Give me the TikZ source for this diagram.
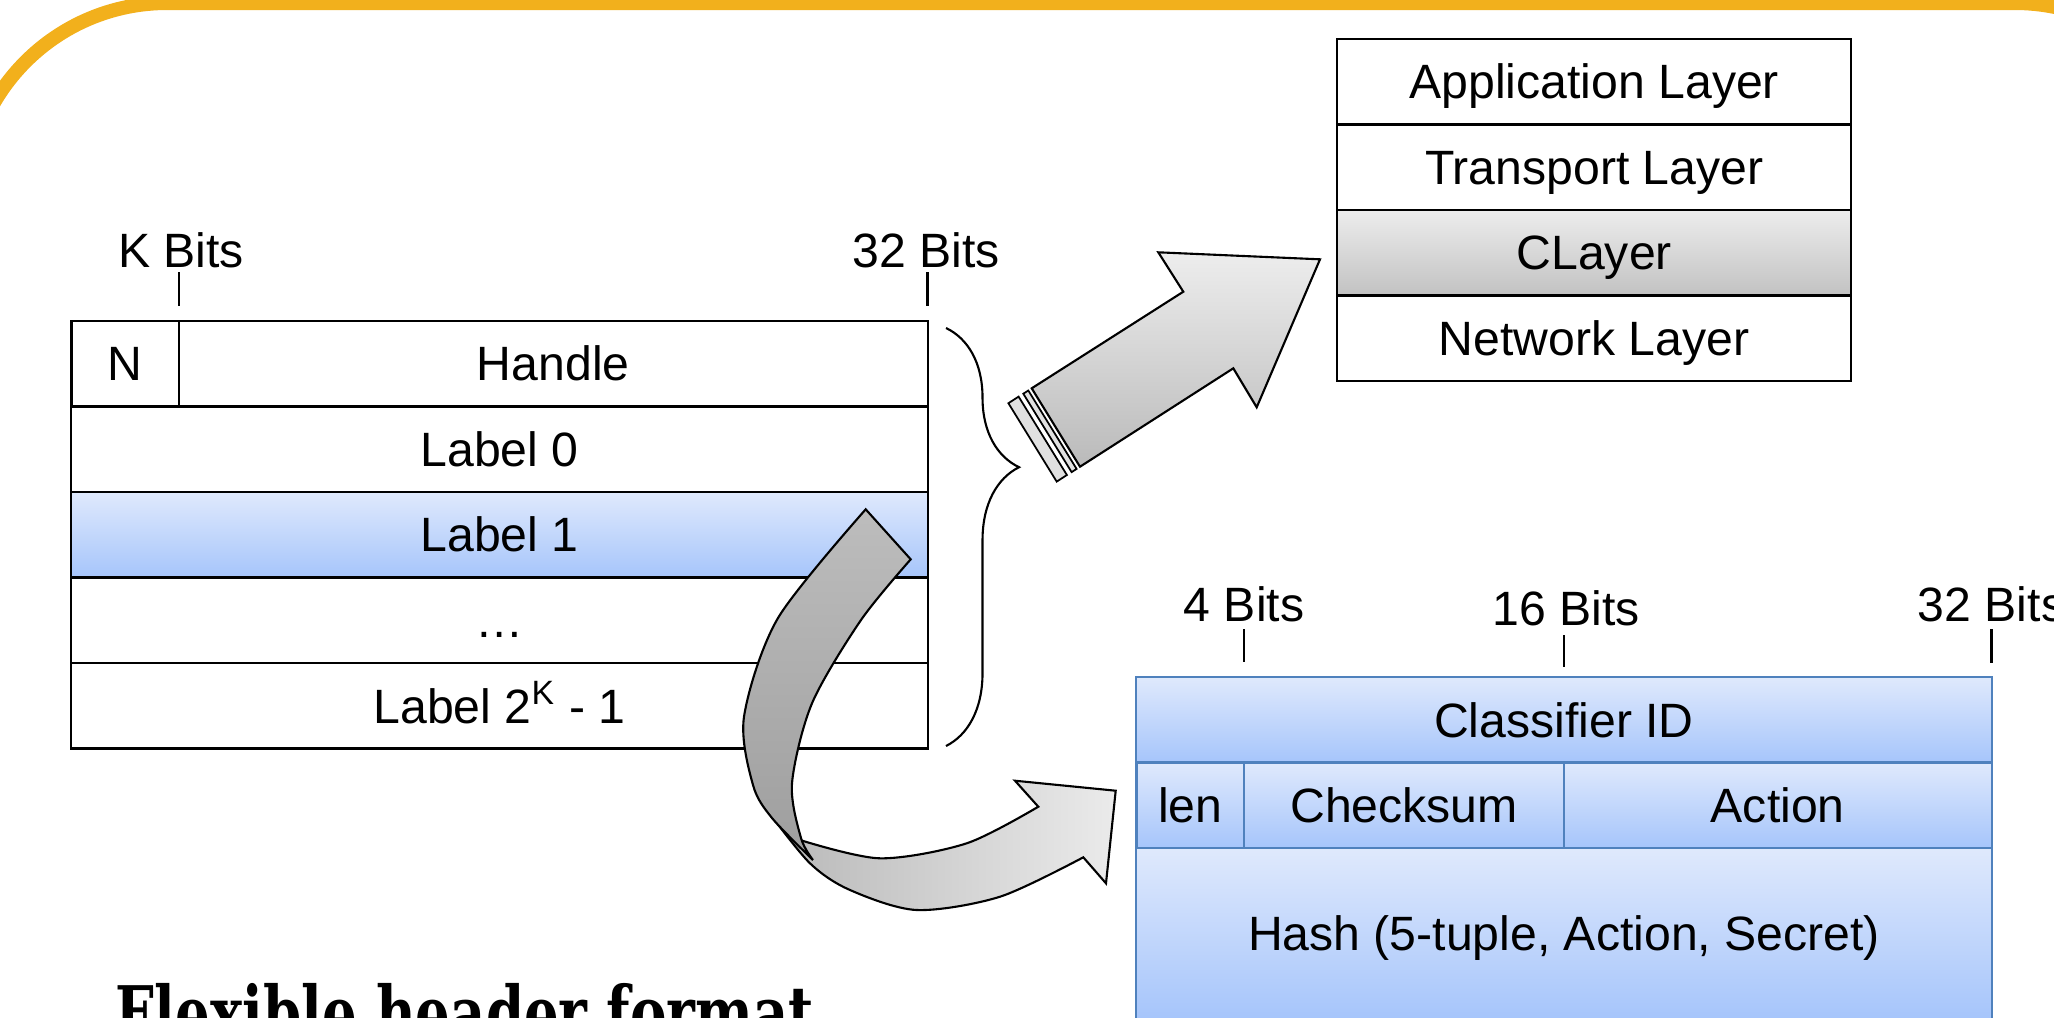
\documentclass[tikz,border=0pt]{standalone}
\usepackage{fontspec}
\setmainfont{Liberation Sans}
\newfontfamily\slabserif{DejaVu Serif}
\usetikzlibrary{decorations.pathreplacing}
\definecolor{slideorange}{HTML}{F2B01C}
\definecolor{rowblueT}{HTML}{DFE9FC}
\definecolor{rowblueB}{HTML}{A6C5FB}
\definecolor{bluestroke}{HTML}{4F81BD}
\definecolor{layergrayT}{HTML}{EDEDED}
\definecolor{layergrayB}{HTML}{C2C2C2}
\begin{document}
\begin{tikzpicture}[x=0.01cm,y=-0.01cm,
  lbl/.style={font=\fontsize{13.7}{16}\selectfont, text height=9.8pt, text depth=0pt, inner sep=0pt},
  cell/.style={draw=black, line width=0.6pt, rectangle, inner sep=0pt, outer sep=0pt,
    minimum height=0.855cm, lbl},
  bluecell/.style={cell, draw=bluestroke, top color=rowblueT, bottom color=rowblueB},
  graycell/.style={cell, top color=layergrayT, bottom color=layergrayB},
  tick/.style={line width=0.6pt},
  bigarrow/.style={draw=black, line width=0.6pt, line join=miter, top color=black!7, bottom color=black!27},
  stripe/.style={draw=black, line width=0.5pt, fill=black!12},
  ribbonback/.style={draw=black, line width=0.6pt, top color=black!26, bottom color=black!38},
  ribbonfront/.style={draw=black, line width=0.6pt, left color=black!28, right color=black!8},
]
\useasboundingbox (0,0) rectangle (2054,1017);
\clip (0,0) rectangle (2054,1017);
\fill[white] (0,0) rectangle (2054,1017);

% slide frame
\draw[slideorange, line width=0.14cm, rounded corners=2cm] (-33,3) rectangle (2215,1300);

% ---------- label table ----------
\node[cell, minimum width=1.075cm] (n) at (125.25,363.75) {N};
\node[cell, minimum width=7.485cm] (handle) at (553.25,363.75) {Handle};
\node[cell, minimum width=8.56cm] (lab0) at (499.5,449.25) {Label 0};
\node[bluecell, draw=black, minimum width=8.56cm] (lab1) at (499.5,534.75) {Label 1};
\node[cell, minimum width=8.56cm] (labdots) at (499.5,620.25) {…};
\node[cell, minimum width=8.56cm] (labK) at (499.5,705.75) {Label 2\textsuperscript{K} - 1};

\node[lbl] (kbits) at (181,250) {K Bits};
\node[lbl] (tbits) at (926,250) {32 Bits};
\draw[tick] (179,272) -- (179,306);
\draw[tick] (927.5,272) -- (927.5,306);

% brace over the label rows
\draw[line width=0.6pt, decorate, decoration={brace, amplitude=0.73cm, aspect=0.333}]
  (946,328) -- (946,746);

% ---------- protocol stack ----------
\node[cell, minimum width=5.135cm] (app) at (1594.25,81.75) {Application Layer};
\node[cell, minimum width=5.135cm] (trans) at (1594.25,167.25) {Transport Layer};
\node[graycell, minimum width=5.135cm] (clayer) at (1594.25,252.75) {CLayer};
\node[cell, minimum width=5.135cm] (net) at (1594.25,338.25) {Network Layer};

% ---------- classifier header ----------
\node[bluecell, minimum width=8.55cm] (cid) at (1564,719.75) {Classifier ID};
\node[bluecell, minimum width=1.075cm] (len) at (1190.25,805.25) {len};
\node[bluecell, minimum width=3.2cm] (csum) at (1404,805.25) {Checksum};
\node[bluecell, minimum width=4.275cm] (action) at (1777.75,805.25) {Action};
\node[bluecell, minimum width=8.55cm, minimum height=1.71cm] (hash) at (1564,933.5) {Hash (5-tuple, Action, Secret)};

\node[lbl] (fbits) at (1244,604) {4 Bits};
\node[lbl] (sbits) at (1566,608) {16 Bits};
\node[lbl] (rbits) at (1991.5,604) {32 Bits};
\draw[tick] (1244,629) -- (1244,662);
\draw[tick] (1564,635) -- (1564,667);
\draw[tick] (1991.5,629) -- (1991.5,663);

% ---------- straight block arrow: labels -> CLayer ----------
\draw[stripe] (1028.3,390.5) -- (1076.6,468.9) -- (1071.6,472.1) -- (1023.3,393.7) -- cycle;
\draw[stripe] (1018.6,396.6) -- (1066.9,475.0) -- (1056.7,481.6) -- (1008.4,403.2) -- cycle;
\draw[bigarrow] (1031.7,388.3) -- (1183.3,291.7) -- (1158.3,252.3) -- (1320,259.3)
  -- (1256.7,407.3) -- (1233.3,368.3) -- (1080,466.7) -- cycle;

% ---------- curved ribbon arrow: Label 1 -> classifier header ----------
\draw[ribbonfront] (768.3,811.7) -- (800,840)
  -- plot[smooth] coordinates {(800,840) (880,858.3) (966.7,843.3) (1038.3,806.7)}
  -- (1015,780.7) -- (1115.7,790.7) -- (1106,883.3) -- (1083.3,857.3)
  -- plot[smooth] coordinates {(1083.3,857.3) (1000,896.7) (916.7,910) (850,890) (810,863.3) (768.3,811.7)}
  -- cycle;
\draw[ribbonback] (865.7,509.3)
  -- plot[smooth] coordinates {(865.7,509.3) (778,618) (744,716.7) (753,785) (772,818) (813,860)}
  -- plot[smooth] coordinates {(813,860) (801,838) (792,783.3) (812,703.3) (861,620) (910.7,559.3)}
  -- cycle;

% ---------- slide text ----------
\node[anchor=base west, inner sep=0pt, font=\slabserif\bfseries\fontsize{21}{24}\selectfont] (title)
  at (115,1039) {\scalebox{0.74}[1]{Flexible header format}};
\end{tikzpicture}
\end{document}
